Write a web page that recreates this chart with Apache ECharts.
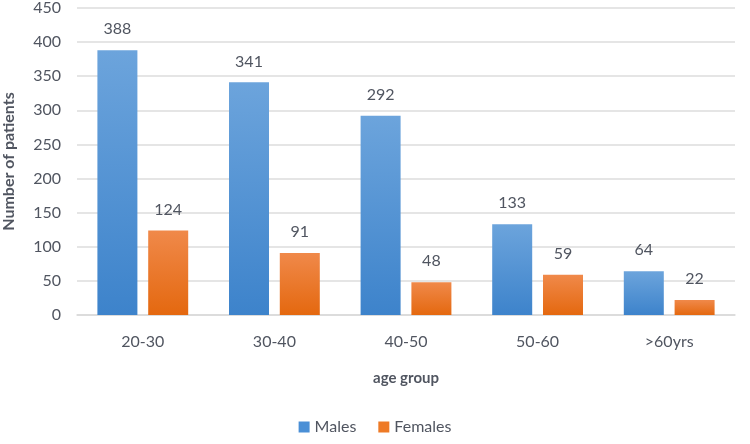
<!DOCTYPE html>
<html>
<head>
<meta charset="utf-8">
<script src="https://cdn.jsdelivr.net/npm/echarts@6/dist/echarts.min.js"></script>
<style>html,body{margin:0;padding:0;background:#fff}#c{width:750px;height:444px}</style>
</head>
<body>
<div id="c"></div>
<script>
var categories = ['20-30', '30-40', '40-50', '50-60', '>60yrs'];
var males = [388, 341, 292, 133, 64];
var females = [124, 91, 48, 59, 22];
var yTicks = { min: 0, max: 450, interval: 50 };

var chart = echarts.init(document.getElementById('c'));
var font = 'Lato, "Open Sans", sans-serif';
var txt = '#505560';
function grad(top, bottom) {
  return new echarts.graphic.LinearGradient(0, 0, 0, 1, [
    { offset: 0, color: top }, { offset: 1, color: bottom }
  ]);
}
chart.setOption({
  animation: false,
  textStyle: { fontFamily: font },
  grid: { left: 77, right: 15, top: 8, bottom: 129, containLabel: false, outerBoundsMode: 'none' },
  legend: {
    bottom: 4, left: 'center',
    itemWidth: 11, itemHeight: 11, itemGap: 22,
    textStyle: { fontSize: 16, color: txt, fontFamily: font },
    data: [
      { name: 'Males', icon: 'rect', itemStyle: { color: '#4a8fd6' } },
      { name: 'Females', icon: 'rect', itemStyle: { color: '#ee7a26' } }
    ]
  },
  xAxis: {
    type: 'category', data: categories,
    name: 'age group', nameLocation: 'middle', nameGap: 56,
    nameTextStyle: { fontSize: 15, fontWeight: 'bold', color: txt, fontFamily: font },
    axisLine: { lineStyle: { color: '#d9d9d9', width: 1.5 } },
    axisTick: { show: false },
    axisLabel: { fontSize: 16, color: txt, margin: 19, fontFamily: font }
  },
  yAxis: {
    type: 'value', min: yTicks.min, max: yTicks.max, interval: yTicks.interval,
    name: 'Number of patients', nameLocation: 'middle', nameGap: 60,
    nameTextStyle: { fontSize: 16, fontWeight: 'bold', color: txt, fontFamily: font },
    axisLine: { show: false }, axisTick: { show: false },
    axisLabel: { fontSize: 16, color: txt, margin: 16, fontFamily: font },
    splitLine: { lineStyle: { color: '#dcdcdc', width: 1.5 } }
  },
  series: [
    {
      name: 'Males', type: 'bar', data: males, barWidth: 40, barGap: '27%',
      itemStyle: { color: grad('#6ca4dc', '#3d83cb') },
      label: { show: true, position: 'top', distance: 13, fontSize: 16, color: txt, fontFamily: font }
    },
    {
      name: 'Females', type: 'bar', data: females, barWidth: 40,
      itemStyle: { color: grad('#f0894a', '#e4680f') },
      label: { show: true, position: 'top', distance: 13, fontSize: 16, color: txt, fontFamily: font }
    }
  ]
});
</script>
</body>
</html>
